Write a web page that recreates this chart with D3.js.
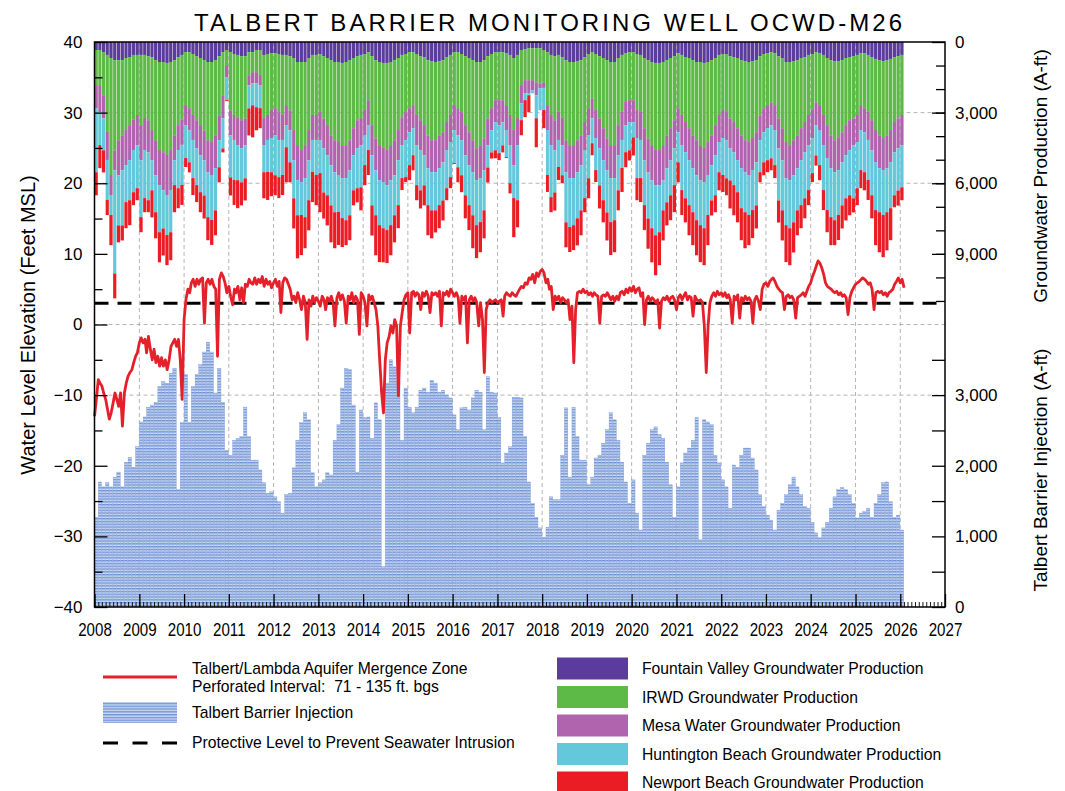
<!DOCTYPE html>
<html>
<head>
<meta charset="utf-8">
<script src="https://cdn.jsdelivr.net/npm/d3@7"></script>
<style>
  body { margin: 0; background: #fff; }
  text { font-family: "Liberation Sans", Arial, sans-serif; }
</style>
</head>
<body>
<div id="container"></div>
<script>
// monthly groundwater production (A-ft), Jan 2008 - Jan 2026
const fountainValley = [
  340,340,430,550,680,770,770,770,680,640,550,550,
  550,550,600,640,770,850,850,890,850,770,640,550,
  430,430,510,600,680,770,850,850,770,600,430,340,
  430,510,550,600,600,430,430,340,340,550,510,470,
  470,510,550,550,600,680,850,850,850,680,550,550,
  510,600,680,770,850,850,890,850,770,680,600,550,
  510,430,600,770,850,890,890,850,770,680,550,510,
  430,430,510,600,640,770,810,850,810,770,640,550,
  430,430,510,600,680,770,850,850,770,600,510,430,
  430,430,470,550,680,550,340,300,260,260,260,260,
  340,430,550,600,550,640,770,850,850,810,770,640,
  510,430,510,600,680,770,850,850,680,550,470,430,
  430,510,550,680,770,850,890,890,850,770,680,600,
  470,550,640,680,770,850,850,890,850,770,680,550,
  510,510,600,640,680,770,810,850,810,770,600,510,
  470,430,470,600,680,850,850,810,770,680,640,550,
  510,430,470,550,680,770,810,810,770,680,640,600,
  550,470,470,550,640,720,770,810,770,720,640,600,
  550
];
const irwd = [
  1490,1490,1830,3270,4970,3830,3400,3190,3060,2890,2760,2550,
  2980,2680,2720,3100,3400,3740,3830,3910,3740,3190,2890,2760,
  2250,2380,2590,2720,2850,2980,3320,3400,3190,2510,1830,640,
  2470,2590,2680,2720,2640,980,850,940,1060,2680,2590,2420,
  2340,2470,2550,2130,2300,3060,3530,3740,3530,3060,2550,2550,
  2470,2640,2850,3190,3320,3400,3490,3530,3400,2980,2720,2680,
  2380,2040,2930,3320,3530,3610,3700,3530,3400,3060,2680,2470,
  2380,2250,2590,2720,2890,3190,3360,3320,3150,3060,2760,2550,
  2250,2380,2470,2930,3150,3400,3660,3530,3320,2640,2300,2040,
  2040,2040,2210,2550,3060,2680,1490,1320,1360,1360,1450,1490,
  1400,2250,2550,2720,2420,2590,3400,3530,3530,3360,3190,2760,
  2300,1960,2380,2640,2980,3320,3530,3530,2850,2420,2080,2040,
  2040,2380,2420,2980,3320,3530,3700,3700,3530,3190,2980,2720,
  2340,2550,2760,2980,3190,3320,3530,3610,3400,3190,2850,2550,
  2380,2470,2640,2760,2980,3190,3360,3400,3270,3060,2510,2300,
  2210,2130,2210,2640,2980,3400,3530,3360,3190,2980,2760,2550,
  2380,2130,2210,2550,2850,3190,3360,3270,3060,2850,2680,2640,
  2550,2210,2340,2420,2680,3020,3190,3270,3190,3020,2760,2640,
  2550
];
const mesaWater = [
  980,1150,980,1190,850,850,1490,1490,1490,1490,1280,1280,
  1490,1360,1360,1280,1490,1490,1620,1700,1700,1060,1060,1060,
  850,940,1060,1190,1280,1280,1360,1400,1400,1060,980,510,
  1060,1060,1150,1190,1150,430,470,470,430,1150,1060,1190,
  1150,1190,1060,850,850,1280,1490,1360,1400,1280,1060,1060,
  1190,1280,1280,1280,1360,1400,1400,1400,1280,1150,1190,1150,
  1060,1060,1280,1360,1490,1450,1490,1490,1490,1280,1150,1190,
  1020,980,1280,1280,1280,1400,1360,1360,1400,1280,1190,1150,
  1060,1150,1190,1280,1400,1360,1360,1400,1360,1150,940,940,
  1060,940,1060,1280,1490,1150,770,550,550,430,550,210,
  210,1060,1280,1280,1190,1150,1360,1400,1400,1360,1280,1190,
  1150,850,1190,1280,1360,1360,1400,1400,1280,1190,980,940,
  940,1190,1190,1360,1450,1490,1490,1490,1490,1400,1360,1190,
  1020,1280,1280,1360,1400,1490,1490,1450,1400,1280,1280,1150,
  1190,1190,1280,1280,1360,1400,1360,1400,1360,1280,1060,1020,
  980,980,1060,1280,1360,1530,1490,1490,1400,1360,1280,1280,
  1190,980,1060,1280,1400,1400,1360,1360,1280,1280,1280,1150,
  1150,1060,1020,1190,1280,1360,1400,1360,1400,1360,1280,1280,
  1280
];
const huntingtonBeach = [
  2720,1400,1360,1700,850,4380,2130,2340,1570,1700,1790,1830,
  2420,2040,2040,1280,1570,2000,1620,1700,1790,1060,1620,1700,
  1400,1360,1620,1570,1570,1490,1910,1910,1790,1150,1280,980,
  1790,1700,1490,1450,1400,980,940,1020,980,1150,1360,1450,
  1700,1570,1490,940,1360,1620,1490,1400,1660,1700,1360,1490,
  1400,1870,1700,1700,1700,1570,1700,1790,1910,1490,1700,1790,
  1280,1060,2130,1910,1910,1960,1910,1910,1700,1910,1400,1570,
  1400,1150,1700,1700,1280,1570,1620,1620,1570,1620,1620,1490,
  1400,1360,1490,1700,1700,1830,1910,1870,1700,940,940,1190,
  1190,980,1150,1620,1400,2340,720,300,90,130,980,940,
  940,1910,2210,1790,1150,1280,2130,2080,2000,1960,1910,2040,
  1830,1060,1360,1570,1700,1790,1870,1790,1490,1190,1150,1190,
  640,1700,1620,1910,1960,2040,2130,2000,1280,1450,1490,1570,
  1280,1910,1960,1910,1870,1910,1910,1960,1700,1490,1700,1280,
  1570,1620,1360,1400,1360,1700,1700,1700,1700,1830,1360,1280,
  1360,1400,1490,2210,2130,2000,2040,2000,1790,1910,1960,1910,
  1490,1280,1490,1910,2210,2080,2040,1910,1830,1830,1910,2250,
  1960,1700,1700,1700,1910,2040,1870,1910,1870,1960,1830,1790,
  1790
];
const newportBeach = [
  980,980,940,640,1280,1060,720,640,1110,1060,550,510,
  640,600,510,1150,1110,1280,1150,1280,1190,1150,850,850,
  380,430,720,720,850,980,980,1060,1060,640,170,40,
  770,1060,1190,980,940,1150,1360,980,850,1110,1190,1020,
  850,890,850,1490,850,1280,1830,1700,1320,1280,1280,1280,
  1660,1110,1280,1570,1530,1400,1230,1060,1060,640,600,980,
  850,1060,1280,1700,1570,1450,1400,1280,1150,980,510,210,
  640,640,640,770,850,1280,1190,940,980,850,510,470,
  40,640,720,980,1060,1400,1400,1280,1190,640,260,340,
  300,300,40,430,1660,1150,640,720,720,0,1230,0,
  770,720,640,770,550,340,1060,1060,1060,1150,1060,600,
  850,510,510,980,940,1190,1400,1360,850,1020,640,430,
  770,940,1020,1060,1280,1450,1700,1400,1280,980,1060,1150,
  850,1060,1020,1280,1400,1490,1570,1570,1280,640,720,770,
  720,720,1190,1280,1280,1360,1530,1280,1190,980,430,550,
  510,510,550,940,1280,1570,1570,1280,1060,980,850,640,
  380,430,640,850,940,1190,1060,1060,980,940,850,600,
  720,770,770,850,980,1490,1700,1790,1620,1360,510,640,
  550
];
// monthly Talbert Barrier injection (A-ft)
const injection = [
  1270,1770,1700,1760,1700,1840,1910,1700,2050,2120,1980,2270,
  2620,2690,2830,2860,2900,3120,3190,3170,3310,3380,1660,2610,
  3290,2610,3120,3290,3430,3610,3750,3610,3030,3380,2900,2220,
  2150,2360,2390,2410,2830,2410,2080,2080,1940,1760,1610,1630,
  1560,1490,1330,1590,1610,1970,2360,2610,2750,2650,1900,1700,
  1760,1800,1900,1870,2360,2580,3100,3380,3360,2860,1910,2790,
  2680,2690,2390,2890,2650,570,3170,3500,3400,3190,2360,3100,
  2830,2750,2830,3070,3100,3040,3210,3170,3040,3070,3000,2960,
  2720,2510,2820,2830,2790,2960,3070,3040,2510,3260,3040,3030,
  2680,2040,2180,2270,2970,2970,2960,2410,1770,1470,1270,1120,
  990,1130,1560,1520,1520,2150,2820,1840,2830,2410,2080,2080,
  1730,1840,2110,2150,2320,2510,2750,2650,2360,2050,1770,1470,
  1800,1330,1090,2150,2320,2510,2550,2440,2390,2050,1730,1270,
  1700,2040,2180,2250,2360,2680,950,2650,2620,2580,2150,2040,
  1800,1700,1400,2010,1980,2150,2250,2250,2110,1940,1590,1420,
  1300,1230,1090,1370,1470,1590,1730,1840,1700,1590,1420,1400,
  1200,1050,980,1120,1200,1400,1560,1660,1690,1660,1590,1470,
  1260,1330,1350,1400,1270,1470,1590,1760,1770,1490,1270,1300,
  1090
];
// water level (ft MSL), twice a month from Jan 2008
const waterLevel = [
  -13.0,-10.6,-7.8,-8.3,-8.7,-9.7,-10.6,-12.0,-13.4,-12.5,-11.1,-9.7,-10.6,-11.6,-9.7,-14.4,-9.7,-8.3,-7.3,-6.8,-6.4,-5.4,-4.5,-4.0,
  -2.6,-1.9,-2.6,-2.1,-4.0,-1.7,-3.5,-5.0,-3.5,-5.4,-4.5,-5.9,-4.7,-5.9,-5.0,-6.4,-5.0,-3.1,-2.6,-2.1,-3.1,-2.1,-5.0,-10.6,
  0.7,3.5,5.0,4.5,5.9,6.4,5.4,6.4,5.7,6.4,6.6,0.2,5.9,6.4,5.7,6.4,5.4,5.0,-4.5,6.4,7.3,6.8,5.9,4.5,
  5.4,4.0,2.8,5.0,4.5,5.4,3.5,5.2,3.1,5.7,5.4,6.4,5.9,5.7,6.6,5.7,6.4,5.9,6.8,5.4,6.4,5.7,6.1,5.2,
  5.9,6.4,5.4,6.1,1.7,5.9,6.6,6.4,5.7,5.0,3.5,4.0,3.1,4.5,3.5,2.1,4.0,3.1,-2.1,3.5,2.6,4.0,3.1,3.8,
  3.3,2.6,4.0,3.5,2.1,3.8,3.3,4.0,3.1,-0.2,3.8,4.5,3.5,4.2,3.3,0.2,4.0,3.5,4.5,3.1,4.0,3.5,-1.4,4.5,
  4.0,3.1,-0.2,4.2,3.5,4.0,3.1,2.1,-0.2,-5.0,-9.7,-12.5,-5.0,-2.6,-1.7,-0.2,-1.2,0.7,-0.2,-10.1,-0.2,1.7,3.5,4.2,
  4.5,-1.2,4.5,4.7,4.0,4.5,4.2,2.1,4.5,4.0,4.7,4.0,1.7,4.5,4.2,4.5,4.0,4.7,-0.2,4.5,4.2,4.7,4.0,5.0,
  4.5,4.0,4.5,3.8,0.2,4.0,3.5,4.0,-2.6,3.5,4.0,3.3,3.8,3.1,-0.2,3.1,0.7,-6.8,2.1,3.1,3.5,3.1,3.3,3.5,
  3.1,3.3,3.5,1.2,4.0,4.5,4.2,4.0,4.5,4.2,4.0,4.5,5.0,5.4,5.2,5.9,5.7,6.6,6.4,7.1,5.9,7.3,6.8,7.5,
  7.8,7.3,5.9,6.4,5.0,5.4,2.1,4.0,3.5,4.0,3.1,3.8,3.5,3.1,3.5,0.7,2.6,-5.4,2.1,4.5,4.7,4.5,5.0,4.5,
  4.7,4.2,4.5,4.0,4.5,4.2,4.0,0.2,4.0,4.2,4.0,4.5,4.0,3.5,4.0,3.3,4.0,3.5,4.5,4.7,4.2,5.0,4.5,5.2,
  4.7,5.4,4.5,5.0,5.2,4.0,4.5,0.0,3.5,4.0,3.3,3.8,3.5,3.1,3.5,-0.5,3.3,3.8,3.5,4.0,3.3,3.8,4.0,3.5,
  2.1,3.8,4.2,3.5,4.0,4.5,3.5,4.0,3.8,1.2,4.0,3.5,3.3,3.5,3.1,-0.2,-6.8,-0.2,3.1,4.0,4.5,4.0,4.7,4.2,
  4.5,4.0,4.5,3.8,4.2,3.5,0.2,4.0,3.5,4.2,0.9,3.8,3.3,4.0,3.5,3.8,3.3,0.2,3.5,4.0,3.3,2.1,5.0,5.7,
  5.9,5.4,6.1,6.4,6.6,6.1,5.4,5.0,4.7,4.5,2.1,4.0,4.2,3.8,4.0,3.5,0.9,3.8,4.0,4.2,4.5,4.0,4.7,5.4,
  5.9,6.8,7.5,8.3,9.0,8.7,8.0,7.1,5.9,5.4,5.2,5.0,4.7,4.5,4.7,4.2,4.5,4.0,4.2,3.8,1.4,3.8,4.7,5.2,
  5.7,5.9,6.1,6.4,6.6,6.4,6.1,5.7,5.9,5.0,2.1,4.5,4.7,4.5,4.7,4.2,4.5,4.0,4.5,4.7,5.0,5.7,6.1,6.6,
  5.9,6.4,5.2
];
const protectiveLevel = 3;
const levelTicks = [-40, -30, -20, -10, 0, 10, 20, 30, 40];
const productionTicks = [0, 3000, 6000, 9000];
const injectionTicks = [0, 1000, 2000, 3000];

const productionSeries = [
  {key: 'fv', name: 'Fountain Valley Groundwater Production', color: '#5b3c9c', values: fountainValley},
  {key: 'irwd', name: 'IRWD Groundwater Production', color: '#5dba47', values: irwd},
  {key: 'mesa', name: 'Mesa Water Groundwater Production', color: '#b064ad', values: mesaWater},
  {key: 'hb', name: 'Huntington Beach Groundwater Production', color: '#63c8da', values: huntingtonBeach},
  {key: 'nb', name: 'Newport Beach Groundwater Production', color: '#ea1d25', values: newportBeach}
];

const W = 1065, H = 791;
const plotL = 94.5, plotR = 945, plotT = 42, plotB = 607;
const START = new Date(2008, 0, 1);
const END = new Date(2027, 0, 1);

const svg = d3.select('#container').append('svg')
  .attr('width', W).attr('height', H);

const x = d3.scaleTime().domain([START, END]).range([plotL, plotR]);
const yLevel = d3.scaleLinear().domain([-40, 40]).range([plotB, plotT]);
const yProd = d3.scaleLinear().domain([0, 24000]).range([plotT, plotB]);
const yInj = d3.scaleLinear().domain([0, 8000]).range([plotB, plotT]);

const defs = svg.append('defs');
const hatch = defs.append('pattern')
  .attr('id', 'hatch')
  .attr('patternUnits', 'userSpaceOnUse')
  .attr('width', 8).attr('height', 2.8);
hatch.append('rect').attr('width', 8).attr('height', 2.8).attr('fill', '#cfdcf3');
hatch.append('rect').attr('width', 8).attr('height', 1.4).attr('fill', '#6f92d5');

const months = fountainValley.map((_, i) => d3.timeMonth.offset(START, i));
const monthX0 = i => x(months[i]);
const monthX1 = i => x(d3.timeMonth.offset(months[i], 1));

// grid
const grid = svg.append('g')
  .attr('stroke', '#b5b5b5')
  .attr('stroke-width', 1)
  .attr('stroke-dasharray', '4,3');
grid.selectAll('line.v')
  .data(d3.range(2009, 2027))
  .join('line')
    .attr('class', 'v')
    .attr('x1', d => x(new Date(d, 0, 1))).attr('x2', d => x(new Date(d, 0, 1)))
    .attr('y1', plotT).attr('y2', plotB);
grid.selectAll('line.h')
  .data([30, 20, 0, -10])
  .join('line')
    .attr('class', 'h')
    .attr('x1', plotL).attr('x2', plotR)
    .attr('y1', d => yLevel(d)).attr('y2', d => yLevel(d));

// injection bars
svg.append('g')
  .selectAll('rect')
  .data(injection)
  .join('rect')
    .attr('x', (d, i) => monthX0(i))
    .attr('width', (d, i) => monthX1(i) - monthX0(i) - 0.4)
    .attr('y', d => yInj(d))
    .attr('height', d => yInj(0) - yInj(d))
    .attr('fill', 'url(#hatch)')
    .attr('stroke', '#7f9dd8')
    .attr('stroke-width', 0.4);

// production stacked bars, hanging from the top
const rows = months.map((m, i) => {
  const r = {date: m};
  productionSeries.forEach(s => { r[s.key] = s.values[i]; });
  return r;
});
const stacked = d3.stack().keys(productionSeries.map(s => s.key))(rows);

svg.append('g')
  .selectAll('g')
  .data(stacked)
  .join('g')
    .attr('fill', (d, i) => productionSeries[i].color)
  .selectAll('rect')
  .data(d => d)
  .join('rect')
    .attr('x', (d, i) => monthX0(i))
    .attr('width', (d, i) => monthX1(i) - monthX0(i) - 0.5)
    .attr('y', d => yProd(d[0]))
    .attr('height', d => Math.max(0, yProd(d[1]) - yProd(d[0])));

// protective level
svg.append('line')
  .attr('x1', plotL).attr('x2', 938)
  .attr('y1', yLevel(protectiveLevel)).attr('y2', yLevel(protectiveLevel))
  .attr('stroke', '#000')
  .attr('stroke-width', 3)
  .attr('stroke-dasharray', '14,9');

// water level line
const levelData = waterLevel.map((v, k) => ({
  date: d3.timeDay.offset(d3.timeMonth.offset(START, Math.floor(k / 2)), (k % 2) * 15),
  v: v
}));
svg.append('path')
  .datum(levelData)
  .attr('fill', 'none')
  .attr('stroke', '#e4202a')
  .attr('stroke-width', 2.8)
  .attr('stroke-linejoin', 'round')
  .attr('d', d3.line().x(d => x(d.date)).y(d => yLevel(d.v)));

// axes
function styleAxis(g, size) {
  g.selectAll('.domain').remove();
  g.selectAll('.tick line').attr('stroke', '#000').attr('stroke-width', 1.3);
  g.selectAll('.tick text').attr('fill', '#000').style('font-size', size + 'px')
    .style('font-family', '"Liberation Sans", Arial, sans-serif');
}

svg.append('g')
  .attr('transform', `translate(${plotL},0)`)
  .call(d3.axisLeft(yLevel).tickValues(d3.range(-35, 40, 10)).tickSizeInner(-8).tickSizeOuter(0).tickFormat(''))
  .call(g => styleAxis(g, 17));
svg.append('g')
  .attr('transform', `translate(${plotL},0)`)
  .call(d3.axisLeft(yLevel).tickValues(levelTicks).tickSizeInner(-13).tickSizeOuter(0).tickPadding(12))
  .call(g => styleAxis(g, 17));

svg.append('g')
  .attr('transform', `translate(${plotR},0)`)
  .call(d3.axisRight(yProd).tickValues(d3.range(1000, 12000, 1000)).tickSizeInner(-9).tickSizeOuter(0).tickFormat(''))
  .call(g => styleAxis(g, 17));
svg.append('g')
  .attr('transform', `translate(${plotR},0)`)
  .call(d3.axisRight(yProd).tickValues(productionTicks).tickSizeInner(-13).tickSizeOuter(0).tickPadding(10).tickFormat(d3.format(',')))
  .call(g => styleAxis(g, 17));

svg.append('g')
  .attr('transform', `translate(${plotR},0)`)
  .call(d3.axisRight(yInj).tickValues([500, 1500, 2500, 3500]).tickSizeInner(-13).tickSizeOuter(0).tickFormat(''))
  .call(g => styleAxis(g, 17));
svg.append('g')
  .attr('transform', `translate(${plotR},0)`)
  .call(d3.axisRight(yInj).tickValues(injectionTicks).tickSizeInner(-13).tickSizeOuter(0).tickPadding(10).tickFormat(d3.format(',')))
  .call(g => styleAxis(g, 17));

svg.append('g')
  .attr('transform', `translate(0,${plotB})`)
  .call(d3.axisBottom(x).tickValues(d3.timeMonth.range(START, END)).tickSizeInner(-5).tickSizeOuter(0).tickFormat(''))
  .call(g => styleAxis(g, 16))
  .call(g => g.selectAll('.tick line').attr('stroke-width', 0.9));
svg.append('g')
  .attr('transform', `translate(0,${plotB})`)
  .call(d3.axisBottom(x).tickValues(d3.timeYear.range(START, d3.timeYear.offset(END, 1))).tickSizeInner(-13).tickSizeOuter(0).tickPadding(16).tickFormat(d3.timeFormat('%Y')))
  .call(g => styleAxis(g, 18))
  .call(g => g.selectAll('.tick text').attr('transform', 'scale(0.84,1)'));

// frame
svg.append('rect')
  .attr('x', plotL).attr('y', plotT)
  .attr('width', plotR - plotL).attr('height', plotB - plotT)
  .attr('fill', 'none').attr('stroke', '#000').attr('stroke-width', 1.5);

// titles
svg.append('text')
  .attr('x', 548).attr('y', 31)
  .attr('text-anchor', 'middle')
  .attr('textLength', 708).attr('lengthAdjust', 'spacing')
  .style('font-size', '24px')
  .text('TALBERT BARRIER MONITORING WELL OCWD-M26');

svg.append('text')
  .attr('transform', 'translate(35,325) rotate(-90)')
  .attr('text-anchor', 'middle')
  .style('font-size', '20px')
  .text('Water Level Elevation (Feet MSL)');
svg.append('text')
  .attr('transform', 'translate(1047,176) rotate(-90)')
  .attr('text-anchor', 'middle')
  .style('font-size', '19px')
  .text('Groundwater Production (A-ft)');
svg.append('text')
  .attr('transform', 'translate(1047,470) rotate(-90)')
  .attr('text-anchor', 'middle')
  .style('font-size', '19px')
  .text('Talbert Barrier Injection (A-ft)');

// legend
const legend = svg.append('g').style('font-size', '15.7px');
legend.append('line')
  .attr('x1', 103).attr('x2', 177).attr('y1', 677).attr('y2', 677)
  .attr('stroke', '#e4202a').attr('stroke-width', 3);
legend.append('text').attr('x', 192).attr('y', 674).text('Talbert/Lambda Aquifer Mergence Zone');
legend.append('text').attr('x', 192).attr('y', 692).attr('xml:space', 'preserve')
  .text('Perforated Interval:  71 - 135 ft. bgs');
legend.append('rect')
  .attr('x', 103).attr('y', 702).attr('width', 74).attr('height', 21)
  .attr('fill', 'url(#hatch)');
legend.append('text').attr('x', 192).attr('y', 718).text('Talbert Barrier Injection');
legend.append('line')
  .attr('x1', 103).attr('x2', 177).attr('y1', 743).attr('y2', 743)
  .attr('stroke', '#000').attr('stroke-width', 3).attr('stroke-dasharray', '15,14.5');
legend.append('text').attr('x', 192).attr('y', 748).text('Protective Level to Prevent Seawater Intrusion');

const legendRight = legend.append('g')
  .selectAll('g')
  .data(productionSeries)
  .join('g')
    .attr('transform', (d, i) => `translate(557,${657.5 + i * 28.5})`);
legendRight.append('rect')
  .attr('width', 71).attr('height', 22)
  .attr('fill', d => d.color);
legendRight.append('text')
  .attr('x', 85).attr('y', 16.5)
  .text(d => d.name);
</script>
</body>
</html>
